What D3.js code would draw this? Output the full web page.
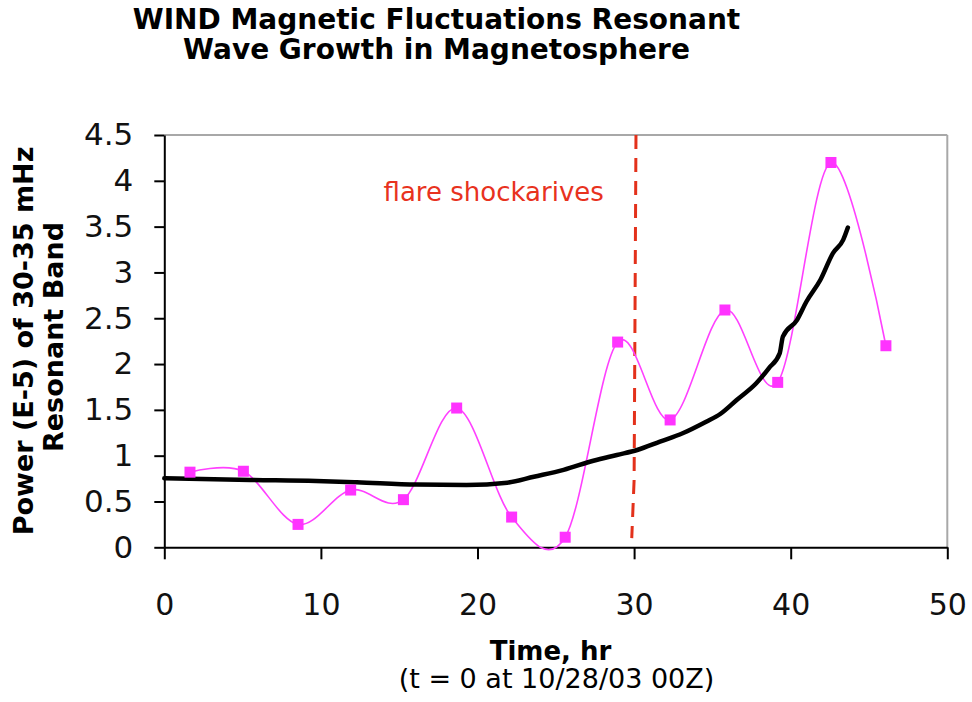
<!DOCTYPE html>
<html>
<head>
<meta charset="utf-8">
<script src="https://cdn.jsdelivr.net/npm/d3@7"></script>
<style>
  html, body { margin: 0; padding: 0; background: #fff; }
  svg { display: block; }
  text { font-family: "DejaVu Sans", Verdana, sans-serif; }
</style>
</head>
<body>
<svg id="chart" width="972" height="702"></svg>
<script>
// ---- data ----
const titleLines = ["WIND Magnetic Fluctuations Resonant", "Wave Growth in Magnetosphere"];
const yLabelLines = ["Power (E-5) of 30-35 mHz", "Resonant Band"];
const xLabel = "Time, hr";
const xSubLabel = "(t = 0 at 10/28/03 00Z)";
const flareLabel = "flare shockarives";

const xTicks = [0, 10, 20, 30, 40, 50];
const yTicks = [0, 0.5, 1, 1.5, 2, 2.5, 3, 3.5, 4, 4.5];

// magenta measured points
const powerT = [1.64, 5.05, 8.54, 11.9, 15.27, 18.67, 22.18, 25.6, 28.95, 32.3, 35.8, 39.17, 42.57, 46.08];
const powerV = [0.82, 0.83, 0.25, 0.625, 0.52, 1.52, 0.33, 0.11, 2.24, 1.39, 2.59, 1.80, 4.20, 2.20];

// black trend line
const trendT = [0, 5.5, 9.7, 12.3, 16.1, 19.3, 21.9, 23.6, 25.5, 27.4, 28.9, 30.2, 31.65, 33.1, 34.6, 35.5, 36.55, 37.8, 38.6, 39.3, 39.5, 40.4, 41.0, 41.9, 42.7, 43.35, 43.65];
const trendV = [0.753, 0.735, 0.724, 0.71, 0.685, 0.68, 0.705, 0.77, 0.845, 0.945, 1.008, 1.062, 1.153, 1.245, 1.371, 1.455, 1.608, 1.79, 1.954, 2.118, 2.3, 2.48, 2.68, 2.92, 3.21, 3.355, 3.49];

// flare arrival marker (dashed)
const flareT = [30.12, 30.0, 29.85];
const flareV = [4.5, 0.73, 0.1];
const flareLabelPos = [14.0, 3.78]; // [t, value] of label start

// ---- layout ----
const svg = d3.select("#chart");
const plotLeft = 164.3, plotRight = 947.3, plotTop = 135, plotBottom = 547.3;

const x = d3.scaleLinear().domain([0, 50]).range([plotLeft, plotRight]);
const y = d3.scaleLinear().domain([0, 4.5]).range([plotBottom, plotTop]);

// frame (top & right grey)
svg.append("line")
  .attr("x1", x(0)).attr("x2", x(50)).attr("y1", y(4.5)).attr("y2", y(4.5))
  .attr("stroke", "#a8a8a8").attr("stroke-width", 2);
svg.append("line")
  .attr("x1", x(50)).attr("x2", x(50)).attr("y1", y(0)).attr("y2", y(4.5))
  .attr("stroke", "#a8a8a8").attr("stroke-width", 2);

// axes
const yAxis = d3.axisLeft(y).tickValues(yTicks).tickSize(10).tickSizeOuter(0).tickPadding(21)
  .tickFormat(d => String(d));
const xAxis = d3.axisBottom(x).tickValues(xTicks).tickSize(12).tickSizeOuter(0).tickPadding(34)
  .tickFormat(d => String(d));

const gy = svg.append("g").attr("transform", `translate(${plotLeft},0)`).call(yAxis);
const gx = svg.append("g").attr("transform", `translate(0,${plotBottom})`).call(xAxis);

[gx, gy].forEach(g => {
  g.select(".domain").attr("stroke", "#000").attr("stroke-width", 2);
  g.selectAll(".tick line").attr("stroke", "#000").attr("stroke-width", 2);
  g.selectAll(".tick text").attr("fill", "#111").style("font-family", '"DejaVu Sans", Verdana, sans-serif');
});
gy.selectAll(".tick text").style("font-size", "31px");
gx.selectAll(".tick text").style("font-size", "30px");

// flare dashed line
svg.append("path")
  .datum(flareT.map((t, i) => [t, flareV[i]]))
  .attr("d", d3.line().x(d => x(d[0])).y(d => y(d[1])))
  .attr("fill", "none")
  .attr("stroke", "#e3311b")
  .attr("stroke-width", 3)
  .attr("stroke-dasharray", "14,9");

svg.append("text")
  .attr("x", x(flareLabelPos[0])).attr("y", y(flareLabelPos[1]))
  .attr("fill", "#e8321e")
  .style("font-size", "26px")
  .text(flareLabel);

// magenta series
const powerData = powerT.map((t, i) => [t, powerV[i]]);
svg.append("path")
  .datum(powerData)
  .attr("d", d3.line().x(d => x(d[0])).y(d => y(d[1])).curve(d3.curveCardinal.tension(0)))
  .attr("fill", "none")
  .attr("stroke", "#ff40ff")
  .attr("stroke-width", 1.6);

// black trend
svg.append("path")
  .datum(trendT.map((t, i) => [t, trendV[i]]))
  .attr("d", d3.line().x(d => x(d[0])).y(d => y(d[1])).curve(d3.curveMonotoneX))
  .attr("fill", "none")
  .attr("stroke", "#000")
  .attr("stroke-width", 4.5)
  .attr("stroke-linecap", "round")
  .attr("stroke-linejoin", "round");

// magenta markers
svg.append("g").selectAll("rect")
  .data(powerData)
  .join("rect")
  .attr("x", d => x(d[0]) - 5.5)
  .attr("y", d => y(d[1]) - 5.5)
  .attr("width", 11).attr("height", 11)
  .attr("fill", "#ff33ff");

// title
svg.append("text")
  .attr("text-anchor", "middle")
  .attr("x", 436.5)
  .style("font-size", "28px").style("font-weight", "bold")
  .selectAll("tspan")
  .data(titleLines)
  .join("tspan")
  .attr("x", 436.5)
  .attr("y", (d, i) => 28.5 + i * 30)
  .text(d => d);

// y label
svg.append("text")
  .attr("transform", "translate(0,340) rotate(-90)")
  .attr("text-anchor", "middle")
  .style("font-size", "27px").style("font-weight", "bold")
  .selectAll("tspan")
  .data(yLabelLines)
  .join("tspan")
  .attr("x", (d, i) => i === 0 ? -1 : 3)
  .attr("y", (d, i) => 33 + i * 30)
  .text(d => d);

// x label
svg.append("text")
  .attr("x", 550.5).attr("y", 660)
  .attr("text-anchor", "middle")
  .style("font-size", "26px").style("font-weight", "bold")
  .text(xLabel);
svg.append("text")
  .attr("x", 556.5).attr("y", 688)
  .attr("text-anchor", "middle")
  .style("font-size", "27px")
  .text(xSubLabel);
</script>
</body>
</html>
